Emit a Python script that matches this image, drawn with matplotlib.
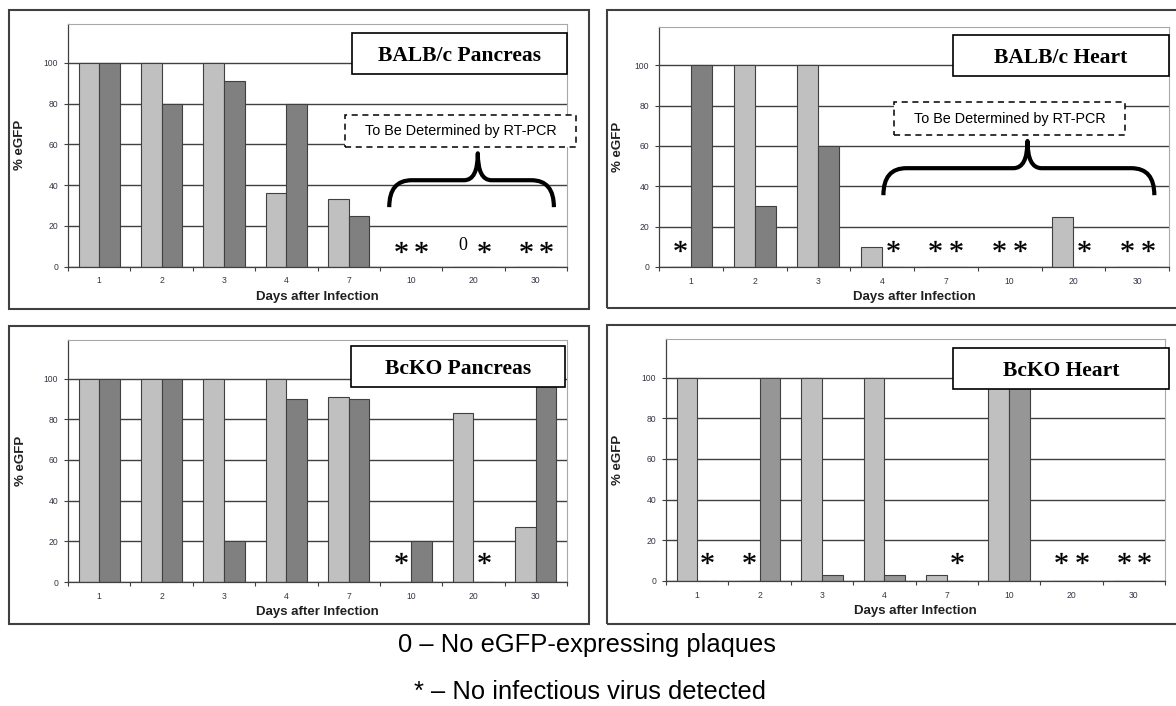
import numpy as np
import matplotlib
matplotlib.use('Agg')
import matplotlib.pyplot as plt
from matplotlib.patches import Rectangle, PathPatch
from matplotlib.path import Path
from matplotlib.textpath import TextPath
from matplotlib.font_manager import FontProperties

plt.rcParams['font.family'] = ['Liberation Sans', 'DejaVu Sans']

# ---- data -------------------------------------------------------------
days = ['1', '2', '3', '4', '7', '10', '20', '30']

balbc_panc_light = [100, 100, 100, 36, 33, 0, 0, 0]
balbc_panc_dark = [100, 80, 91, 80, 25, 0, 0, 0]
balbc_panc_light_mark = ['', '', '', '', '', '*', '0', '*']
balbc_panc_dark_mark = ['', '', '', '', '', '*', '*', '*']

balbc_heart_light = [0, 100, 100, 10, 0, 0, 25, 0]
balbc_heart_dark = [100, 30, 60, 0, 0, 0, 0, 0]
balbc_heart_light_mark = ['*', '', '', '', '*', '*', '', '*']
balbc_heart_dark_mark = ['', '', '', '*', '*', '*', '*', '*']

bcko_panc_light = [100, 100, 100, 100, 91, 0, 83, 27]
bcko_panc_dark = [100, 100, 20, 90, 90, 20, 0, 100]
bcko_panc_light_mark = ['', '', '', '', '', '*', '', '']
bcko_panc_dark_mark = ['', '', '', '', '', '', '*', '']

bcko_heart_light = [100, 0, 100, 100, 3, 100, 0, 0]
bcko_heart_dark = [0, 100, 3, 3, 0, 100, 0, 0]
bcko_heart_light_mark = ['', '*', '', '', '', '', '*', '*']
bcko_heart_dark_mark = ['*', '', '', '', '*', '', '*', '*']

# ---- layout (pixels of the 1176x706 picture) -------------------------
W, H = 1176, 706
panels = [
    dict(title='BALB/c Pancreas', light=balbc_panc_light, dark=balbc_panc_dark,
         lmark=balbc_panc_light_mark, dmark=balbc_panc_dark_mark, dark_col='#808080',
         frame=(9, 10, 589, 309), axes=(68, 24, 567, 266.7), box=(352, 33, 567, 74),
         ylab_dx=48, mark_y=9.8, tbd=(345, 115, 576, 147),
         brace=(4.65, 7.29, 6.07, 29.2, 42.4, 55.6)),
    dict(title='BALB/c Heart', light=balbc_heart_light, dark=balbc_heart_dark,
         lmark=balbc_heart_light_mark, dmark=balbc_heart_dark_mark, dark_col='#808080',
         frame=(607, 10, 1180, 308), axes=(659, 27, 1169, 267), box=(953, 35, 1169, 76),
         ylab_dx=41, mark_y=10.5, tbd=(894, 102, 1125, 135),
         brace=(3.02, 7.27, 5.28, 35.6, 49.0, 62.5)),
    dict(title='BcKO Pancreas', light=bcko_panc_light, dark=bcko_panc_dark,
         lmark=bcko_panc_light_mark, dmark=bcko_panc_dark_mark, dark_col='#808080',
         frame=(9, 326, 589, 624), axes=(68, 340, 567, 582), box=(351, 346, 565, 387),
         ylab_dx=47, mark_y=11.8, tbd=None, brace=None),
    dict(title='BcKO Heart', light=bcko_heart_light, dark=bcko_heart_dark,
         lmark=bcko_heart_light_mark, dmark=bcko_heart_dark_mark, dark_col='#969696',
         frame=(607, 325, 1180, 624), axes=(666, 339, 1165, 581), box=(953, 348, 1169, 389),
         ylab_dx=48, mark_y=11.3, tbd=None, brace=None),
]

fig = plt.figure(figsize=(W / 100, H / 100), dpi=100)

# asterisk glyph (Times-like) as a centred marker
_tp = TextPath((0, 0), '*', size=1, prop=FontProperties(family='Liberation Serif'))
_ext = _tp.get_extents()
_v = _tp.vertices - [(_ext.x0 + _ext.x1) / 2, (_ext.y0 + _ext.y1) / 2]
_v[_tp.codes == Path.CLOSEPOLY] = 0.0
star = Path(_v, _tp.codes)


def fig_rect(x0, y0, x1, y1, **kw):
    r = Rectangle((x0 / W, 1 - y1 / H), (x1 - x0) / W, (y1 - y0) / H,
                  transform=fig.transFigure, **kw)
    fig.add_artist(r)
    return r


def draw_brace(ax, x0, x1, xt, y_end, y_mid, y_tip):
    dx_end, dx_tip = 0.36, 0.22
    verts = [(x0, y_end), (x0, y_mid), (x0 + dx_end, y_mid),
             (xt - dx_tip, y_mid), (xt, y_mid), (xt, y_tip),
             (xt, y_mid), (xt + dx_tip, y_mid),
             (x1 - dx_end, y_mid), (x1, y_mid), (x1, y_end)]
    codes = [Path.MOVETO, Path.CURVE3, Path.CURVE3, Path.LINETO,
             Path.CURVE3, Path.CURVE3, Path.CURVE3, Path.CURVE3,
             Path.LINETO, Path.CURVE3, Path.CURVE3]
    ax.add_patch(PathPatch(Path(verts, codes), fill=False, lw=3.0, ec='black',
                           capstyle='butt', joinstyle='round', zorder=5, clip_on=False))


x = np.arange(len(days))
w = 0.33
for p in panels:
    fig_rect(*p['frame'], fill=False, ec='#404040', lw=1.5)
    ax0, ay0, ax1, ay1 = p['axes']
    ax = fig.add_axes([ax0 / W, 1 - ay1 / H, (ax1 - ax0) / W, (ay1 - ay0) / H])
    ax_w, ax_h = ax1 - ax0, ay1 - ay0

    ax.bar(x - w / 2, p['light'], w, color='#c0c0c0', edgecolor='#404040', lw=0.8, zorder=2)
    ax.bar(x + w / 2, p['dark'], w, color=p['dark_col'], edgecolor='#404040', lw=0.8, zorder=2)

    for i, (ml, md) in enumerate(zip(p['lmark'], p['dmark'])):
        for m, xx in ((ml, i - w / 2), (md, i + w / 2)):
            if m == '*':
                ax.plot(xx, p['mark_y'], ls='none', marker=star, ms=8.7,
                        mfc='black', mec='black', mew=0.2, zorder=4)
            elif m == '0':
                ax.text(xx, p['mark_y'] + 0.5, '0', ha='center', va='center',
                        fontsize=13, family='Liberation Serif', zorder=4)

    ax.set_xlim(-0.5, len(days) - 0.5)
    ax.set_ylim(0, 119)
    ax.set_yticks([0, 20, 40, 60, 80, 100])
    ax.yaxis.grid(True, color='#404040', lw=1.0)
    ax.set_axisbelow(True)
    ax.set_xticks(x)
    ax.set_xticklabels(days)
    ax.set_xticks(np.arange(-0.5, len(days)), minor=True)
    ax.tick_params(axis='x', which='major', length=0, pad=7, labelsize=6.2,
                   labelcolor='#353545')
    ax.tick_params(axis='x', which='minor', length=3, width=0.8, color='#404040')
    ax.tick_params(axis='y', length=3, width=0.8, color='#404040', pad=4,
                   labelsize=6.2, labelcolor='#353545')
    for s in ('top', 'right'):
        ax.spines[s].set_color('#a8a8a8')
        ax.spines[s].set_linewidth(0.8)
    for s in ('left', 'bottom'):
        ax.spines[s].set_color('#404040')
        ax.spines[s].set_linewidth(0.9)

    ax.text(0.5, -30 / ax_h, 'Days after Infection', transform=ax.transAxes,
            ha='center', va='center', fontsize=9.5, fontweight='bold', color='#202020')
    ax.text(-p['ylab_dx'] / ax_w, 0.5, '% eGFP', transform=ax.transAxes, rotation=90,
            ha='center', va='center', fontsize=9.5, fontweight='bold', color='#202020')

    if p['brace'] is not None:
        draw_brace(ax, *p['brace'])

    bx0, by0, bx1, by1 = p['box']
    fig_rect(bx0, by0, bx1, by1, fc='white', ec='black', lw=1.2)
    fig.text((bx0 + bx1) / 2 / W, 1 - ((by0 + by1) / 2 + 7.5) / H, p['title'],
             ha='center', va='baseline', fontsize=15.5, fontweight='bold',
             family='Liberation Serif')

    if p['tbd'] is not None:
        tx0, ty0, tx1, ty1 = p['tbd']
        fig_rect(tx0, ty0, tx1, ty1, fc='white', ec='black', lw=1.1, ls=(0, (4, 3)))
        fig.text((tx0 + tx1) / 2 / W, 1 - (ty0 + ty1) / 2 / H, 'To Be Determined by RT-PCR',
                 ha='center', va='center', fontsize=10.4)

fig.text(587 / W, 1 - 652 / H, '0 \u2013 No eGFP-expressing plaques',
         ha='center', va='baseline', fontsize=18.4)
fig.text(590 / W, 1 - 699 / H, '* \u2013 No infectious virus detected',
         ha='center', va='baseline', fontsize=18.4)

fig.savefig('out.png', dpi=100)
